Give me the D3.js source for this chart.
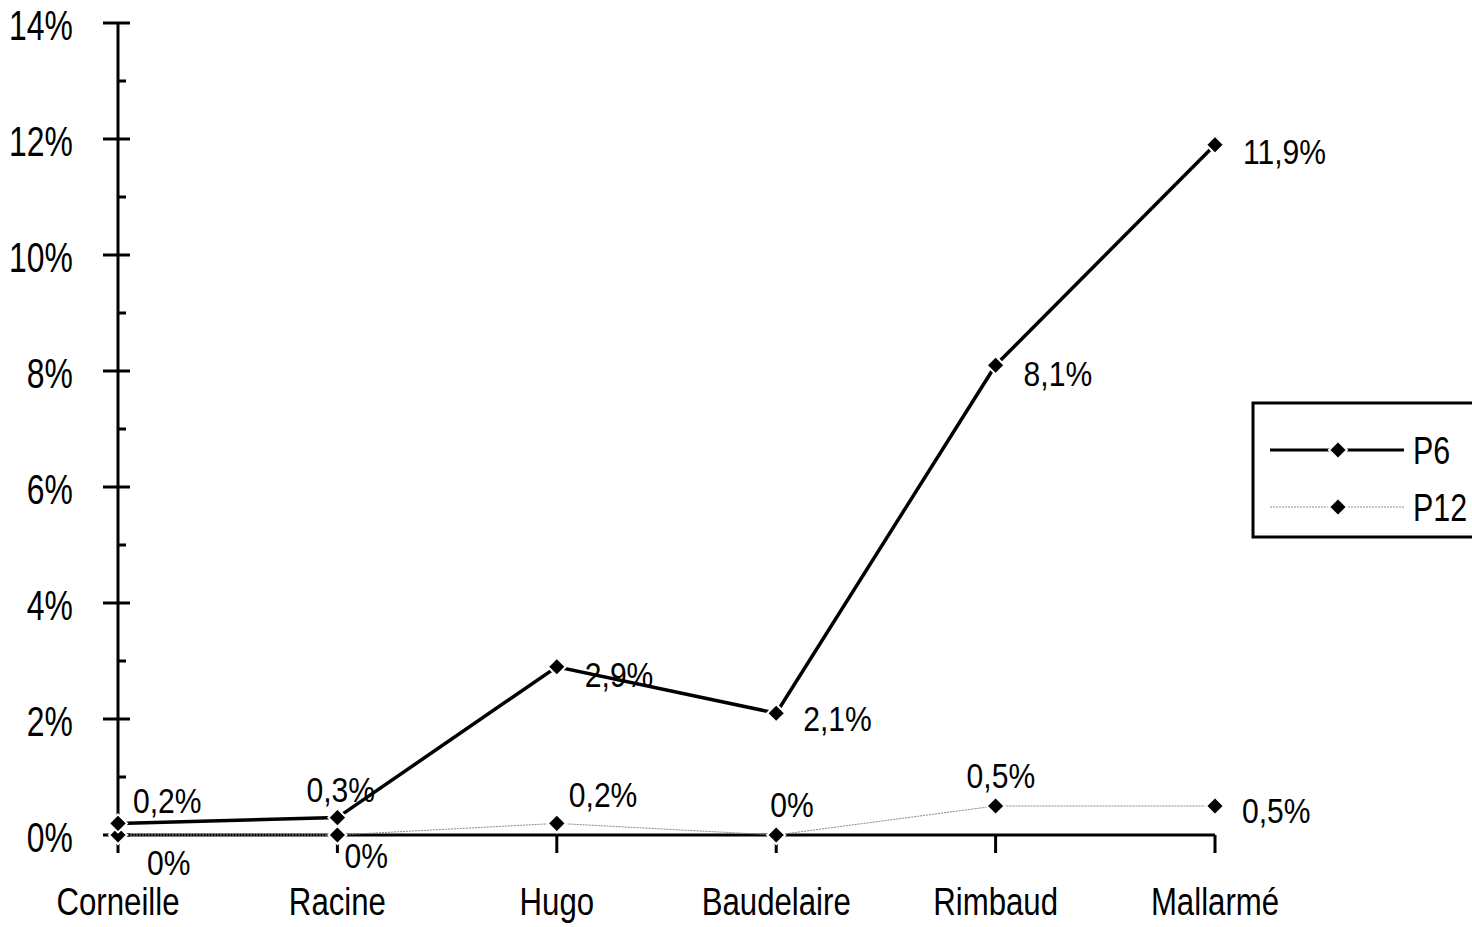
<!DOCTYPE html>
<html><head><meta charset="utf-8">
<script src="https://cdn.jsdelivr.net/npm/d3@7"></script>
<style>body{margin:0;background:#fff}svg text{font-family:"Liberation Sans",Arial,sans-serif;fill:#000}</style>
</head><body><svg id="c" width="1472" height="927"></svg>
<script>
const categories = ["Corneille","Racine","Hugo","Baudelaire","Rimbaud","Mallarmé"];
const p6 = [0.2,0.3,2.9,2.1,8.1,11.9];
const p12 = [0,0,0.2,0,0.5,0.5];
const p6Labels = ["0,2%","0,3%","2,9%","2,1%","8,1%","11,9%"];
const p12Labels = ["0%","0%","0,2%","0%","0,5%","0,5%"];
const yTicks = [0,2,4,6,8,10,12,14];
const seriesNames = ["P6","P12"];

const svg = d3.select("#c");
const x = d3.scalePoint().domain(categories).range([118,1215]);
const y = d3.scaleLinear().domain([0,14]).range([835,23]);

function txt(px,py,s,size,sx,anchor){
  return svg.append("text").attr("transform",`translate(${px},${py}) scale(${sx},1)`)
    .attr("text-anchor",anchor||"start").attr("font-size",size).text(s);
}

// y axis
svg.append("line").attr("x1",118).attr("x2",118).attr("y1",y(14)).attr("y2",y(0)).attr("stroke","#000").attr("stroke-width",3);
yTicks.forEach(t=>{
  svg.append("line").attr("x1",103).attr("x2",130).attr("y1",y(t)).attr("y2",y(t)).attr("stroke","#000").attr("stroke-width",3);
  txt(73,y(t)+17,t+"%",42,0.76,"end");
});
d3.range(1,14,2).forEach(t=>{
  svg.append("line").attr("x1",118).attr("x2",126).attr("y1",y(t)).attr("y2",y(t)).attr("stroke","#000").attr("stroke-width",3);
});
// x axis
svg.append("line").attr("x1",x(categories[0])).attr("x2",x(categories[5])).attr("y1",y(0)).attr("y2",y(0)).attr("stroke","#000").attr("stroke-width",3);
categories.forEach(c=>{
  svg.append("line").attr("x1",x(c)).attr("x2",x(c)).attr("y1",y(0)).attr("y2",y(0)+18).attr("stroke","#000").attr("stroke-width",3);
  txt(x(c),915,c,39,0.8,"middle");
});

const line = d3.line().x((d,i)=>x(categories[i])).y(d=>y(d));
svg.append("path").attr("d",line(p12)).attr("fill","none").attr("stroke","#888").attr("stroke-width",1).attr("stroke-dasharray","2,1");
svg.append("path").attr("d",line(p6)).attr("fill","none").attr("stroke","#000").attr("stroke-width",3.5);

const diamondPath = "M0,-9L9,0L0,9L-9,0Z";
function markers(data){
  svg.append("g").selectAll("path").data(data).join("path")
    .attr("d",diamondPath).attr("transform",(d,i)=>`translate(${x(categories[i])},${y(d)})`)
    .attr("fill","#000").attr("stroke","#fff").attr("stroke-width",2);
}
markers(p12); markers(p6);

// labels
const p6Off = [[15,-10],[-31,-16],[28,20],[27,18],[28,21],[28,19]];
const p12Off = [[29,40],[7,33],[12,-16],[-6,-18],[-29,-18],[27,17]];
p6.forEach((d,i)=>txt(x(categories[i])+p6Off[i][0],y(d)+p6Off[i][1],p6Labels[i],35,0.86));
p12.forEach((d,i)=>txt(x(categories[i])+p12Off[i][0],y(d)+p12Off[i][1],p12Labels[i],35,0.86));

// legend
svg.append("rect").attr("x",1253).attr("y",403).attr("width",240).attr("height",134).attr("fill","#fff").attr("stroke","#000").attr("stroke-width",3);
const ly = [450,507];
seriesNames.forEach((n,i)=>{
  const l = svg.append("line").attr("x1",1270).attr("x2",1404).attr("y1",ly[i]).attr("y2",ly[i]);
  if(i===0) l.attr("stroke","#000").attr("stroke-width",3);
  else l.attr("stroke","#888").attr("stroke-width",1).attr("stroke-dasharray","2,1");
  svg.append("path").attr("d",diamondPath).attr("transform",`translate(1338,${ly[i]})`).attr("fill","#000").attr("stroke","#fff").attr("stroke-width",2);
  txt(1413,ly[i]+14,n,38,0.8);
});
</script></body></html>
